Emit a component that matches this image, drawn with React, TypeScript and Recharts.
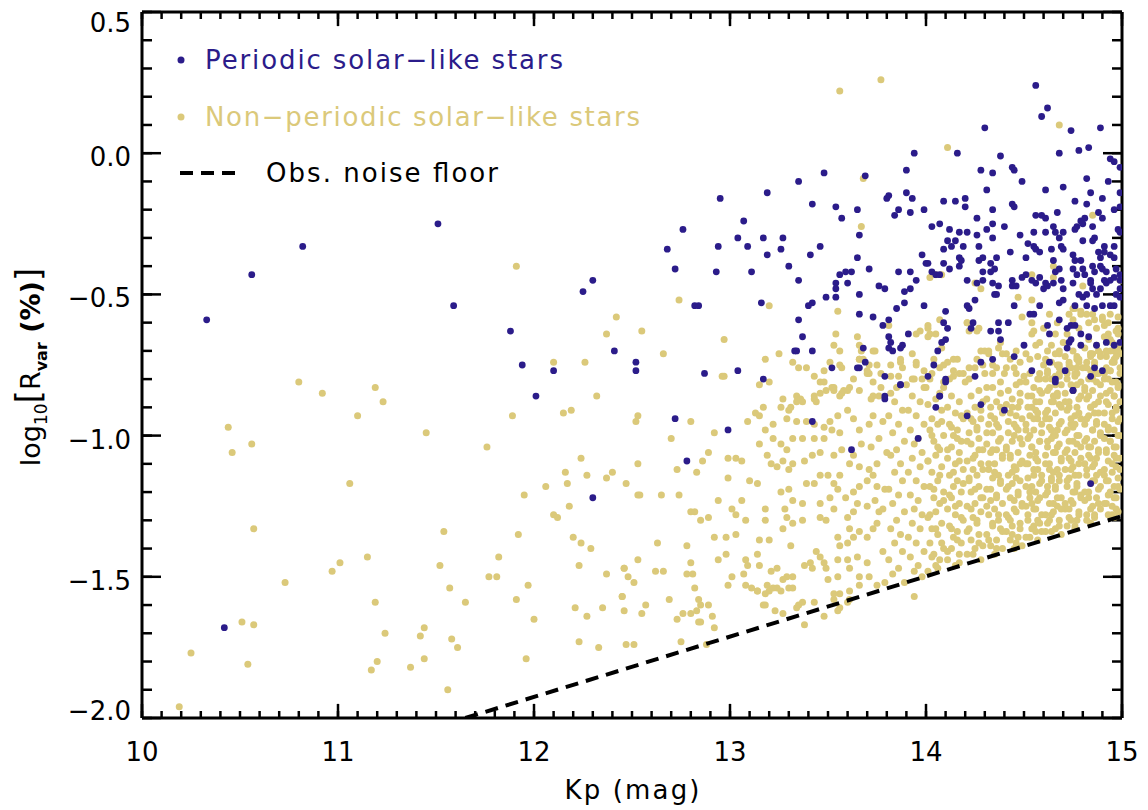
import React from "react";
import { ScatterChart, Scatter, XAxis, YAxis, ReferenceLine } from "recharts";

const BLUE = "#2b1c8a";
const TAN = "#dbc97a";
const FONT = "'DejaVu Sans', sans-serif";

// axis ticks: minor every 0.1, labelled majors
const kpTicks = [
  10, 10.1, 10.2, 10.3, 10.4, 10.5, 10.6, 10.7, 10.8, 10.9,
  11, 11.1, 11.2, 11.3, 11.4, 11.5, 11.6, 11.7, 11.8, 11.9,
  12, 12.1, 12.2, 12.3, 12.4, 12.5, 12.6, 12.7, 12.8, 12.9,
  13, 13.1, 13.2, 13.3, 13.4, 13.5, 13.6, 13.7, 13.8, 13.9,
  14, 14.1, 14.2, 14.3, 14.4, 14.5, 14.6, 14.7, 14.8, 14.9, 15,
];
const kpMajorTicks = [10, 11, 12, 13, 14, 15];
const logTicks = [
  -2.0, -1.9, -1.8, -1.7, -1.6, -1.5, -1.4, -1.3, -1.2, -1.1,
  -1.0, -0.9, -0.8, -0.7, -0.6, -0.5, -0.4, -0.3, -0.2, -0.1,
  0.0, 0.1, 0.2, 0.3, 0.4, 0.5,
];
const logMajorTicks = [-2.0, -1.5, -1.0, -0.5, 0.0, 0.5];

// observational noise floor, [Kp, log10 Rvar]
const noiseFloor = [[11.65, -2.0], [15.0, -1.285]];

// periodic solar-like stars, [Kp, log10 Rvar]
const periodic = [
  [10.33,-0.59],[10.56,-0.43],[10.82,-0.33],[11.51,-0.25],[11.59,-0.54],[10.42,-1.68],[11.88,-0.63],[11.94,-0.75],
  [12.10,-0.77],[12.01,-0.86],[12.25,-0.49],[12.30,-0.45],[12.41,-0.70],[12.52,-0.74],[12.52,-0.77],[12.30,-1.22],
  [14.56,0.24],[14.62,0.16],[14.59,0.13],[14.30,0.09],[14.74,0.08],[14.89,0.09],
  [13.94,0.00],[14.16,0.00],[14.38,-0.01],[14.68,0.00],[14.78,0.01],[14.83,0.02],[14.94,-0.02],[14.96,-0.03],[14.99,-0.05],[14.93,-0.10],
  [13.69,-0.08],[13.90,-0.06],[14.28,-0.06],[14.34,-0.07],[14.44,-0.05],[14.45,-0.06],[14.49,-0.10],[14.82,-0.09],[14.61,-0.13],[14.70,-0.12],[14.99,-0.14],[14.84,-0.14],
  [13.48,-0.07],[13.35,-0.10],[13.19,-0.14],[12.95,-0.16],[12.76,-0.27],[13.07,-0.24],[12.68,-0.34],[12.72,-0.41],[12.94,-0.33],[13.04,-0.30],[13.09,-0.33],[13.17,-0.30],[13.19,-0.36],[13.27,-0.30],[13.26,-0.34],
  [12.93,-0.42],[13.11,-0.42],[13.30,-0.40],[12.82,-0.54],[12.84,-0.54],[13.16,-0.53],[12.87,-0.78],[13.04,-0.77],[13.17,-0.80],
  [13.35,-0.45],[13.41,-0.36],[13.46,-0.33],[13.42,-0.18],[13.54,-0.19],[13.57,-0.23],[13.65,-0.20],[13.80,-0.16],[13.81,-0.15],[13.90,-0.14],[13.93,-0.16],[13.86,-0.20],[13.84,-0.22],[13.92,-0.21],[13.99,-0.20],
  [14.09,-0.17],[14.15,-0.17],[14.20,-0.16],[14.20,-0.19],[14.26,-0.23],[14.34,-0.20],[14.34,-0.25],[14.31,-0.13],[14.44,-0.18],[14.45,-0.19],[14.56,-0.22],[14.59,-0.22],[14.61,-0.23],[14.67,-0.21],
  [14.76,-0.17],[14.82,-0.18],[14.90,-0.16],[14.88,-0.21],[14.90,-0.23],[14.96,-0.20],[14.99,-0.19],[14.79,-0.24],[14.81,-0.23],[14.80,-0.25],[14.85,-0.26],[14.76,-0.27],[14.77,-0.26],
  [14.65,-0.26],[14.66,-0.28],[14.68,-0.30],[14.70,-0.28],[14.55,-0.28],[14.61,-0.28],[14.48,-0.29],[14.40,-0.26],[14.31,-0.27],[14.34,-0.30],[14.26,-0.29],[14.27,-0.33],
  [14.21,-0.28],[14.17,-0.28],[14.12,-0.27],[14.11,-0.31],[14.15,-0.31],[14.13,-0.33],[14.09,-0.34],[14.19,-0.33],[14.03,-0.26],[14.07,-0.25],
  [13.98,-0.36],[14.00,-0.39],[14.01,-0.39],[14.03,-0.42],[14.05,-0.43],[14.07,-0.43],[14.09,-0.39],[14.12,-0.41],[14.17,-0.40],[14.17,-0.37],[14.18,-0.38],
  [14.21,-0.45],[14.25,-0.52],[14.26,-0.46],[14.27,-0.38],[14.29,-0.42],[14.29,-0.45],[14.29,-0.37],[14.33,-0.39],[14.33,-0.42],[14.35,-0.41],[14.36,-0.37],
  [14.34,-0.46],[14.35,-0.50],[14.36,-0.50],[14.37,-0.47],[14.43,-0.35],[14.44,-0.45],[14.44,-0.47],[14.46,-0.47],[14.49,-0.44],[14.51,-0.43],
  [14.52,-0.32],[14.55,-0.33],[14.56,-0.34],[14.58,-0.35],[14.51,-0.37],
  [14.54,-0.45],[14.56,-0.46],[14.58,-0.44],[14.61,-0.46],[14.60,-0.48],[14.62,-0.47],[14.65,-0.46],[14.65,-0.38],[14.66,-0.42],[14.68,-0.41],[14.69,-0.45],[14.70,-0.48],
  [14.64,-0.34],[14.69,-0.33],[14.70,-0.34],
  [14.75,-0.36],[14.76,-0.38],[14.79,-0.38],[14.75,-0.41],[14.80,-0.41],[14.77,-0.43],[14.81,-0.43],[14.84,-0.45],[14.85,-0.40],[14.86,-0.42],[14.89,-0.40],[14.90,-0.41],[14.92,-0.42],[14.89,-0.37],[14.91,-0.35],[14.88,-0.35],[14.91,-0.33],[14.94,-0.36],[14.96,-0.37],
  [14.80,-0.31],[14.85,-0.31],[14.86,-0.30],
  [14.75,-0.46],[14.84,-0.46],[14.85,-0.48],[14.87,-0.50],[14.89,-0.48],[14.91,-0.45],[14.92,-0.46],[14.94,-0.45],[14.96,-0.44],[14.99,-0.45],[14.99,-0.48],[14.97,-0.50],[14.99,-0.51],
  [14.78,-0.50],[14.80,-0.51],[14.82,-0.50],[14.82,-0.54],[14.86,-0.55],[14.90,-0.54],[14.94,-0.54],[14.76,-0.54],[14.70,-0.52],[14.68,-0.53],
  [14.53,-0.57],[14.55,-0.57],[14.58,-0.54],[14.68,-0.59],[14.74,-0.61],[14.72,-0.62],[14.76,-0.61],[14.79,-0.64],
  [14.45,-0.54],[14.42,-0.60],[14.37,-0.60],[14.37,-0.63],[14.38,-0.66],[14.33,-0.63],[14.24,-0.60],[14.23,-0.62],[14.22,-0.55],[14.21,-0.54],
  [14.63,-0.64],[14.62,-0.61],
  [14.73,-0.67],[14.72,-0.69],[14.74,-0.66],[14.79,-0.68],[14.83,-0.65],[14.87,-0.68],[14.92,-0.67],[14.96,-0.68],[14.99,-0.67],
  [14.66,-0.80],[14.71,-0.77],[14.75,-0.84],[14.84,-0.79],[14.86,-0.76],[14.90,-0.77],[14.63,-0.74],
  [14.50,-0.68],[14.45,-0.72],[14.54,-0.77],[14.28,-0.74],[14.34,-0.73],[14.25,-0.79],
  [14.06,-0.70],[14.08,-0.67],[14.10,-0.66],[14.11,-0.62],[14.10,-0.56],[14.09,-0.60],[14.01,-0.79],[14.04,-0.75],[14.10,-0.80],
  [13.99,-0.54],[13.95,-0.45],[13.92,-0.48],[13.89,-0.49],[13.89,-0.53],[13.86,-0.42],[13.92,-0.42],
  [13.85,-0.55],[13.81,-0.59],[13.78,-0.61],[13.81,-0.65],[13.82,-0.67],[13.81,-0.69],[13.83,-0.70],[13.87,-0.69],[13.88,-0.68],[13.91,-0.64],[13.79,-0.79],
  [13.73,-0.58],[13.68,-0.69],[13.66,-0.76],[13.69,-0.74],[13.66,-0.57],[13.66,-0.50],[13.65,-0.37],[13.66,-0.29],[13.71,-0.41],[13.76,-0.47],[13.79,-0.48],
  [13.56,-0.43],[13.59,-0.42],[13.62,-0.42],[13.60,-0.46],[13.54,-0.46],[13.54,-0.48],[13.54,-0.51],[13.49,-0.51],
  [13.42,-0.53],[13.40,-0.54],[13.35,-0.59],[13.37,-0.65],[13.33,-0.70],[13.42,-0.70],[13.52,-0.76],[13.65,-0.76],[13.34,-0.70],
  [12.72,-0.94],[12.78,-1.09],[12.99,-0.98],[13.42,-0.95],[13.62,-1.05],[13.79,-0.87],[13.87,-0.82],[13.96,-1.01],[14.05,-0.90],[14.07,-0.86],
  [14.10,-0.81],[14.21,-0.93],[14.28,-0.89],[14.40,-0.91],[14.66,-0.81],[14.75,-0.84],[14.84,-1.17],
  [14.99,-0.28],[14.98,-0.27],[14.96,-0.33],[14.97,-0.41],[14.99,-0.43],[14.96,-0.54],[13.87,-0.82],[13.79,-0.86],[14.07,-0.86],
];

// non-periodic stars, bright end (Kp < 12.6)
const nonPeriodicBright = [
  [11.91,-0.40],[12.42,-0.58],[12.37,-0.64],[12.26,-0.74],[12.10,-0.74],[12.32,-0.86],[11.89,-0.93],[12.15,-0.92],[12.19,-0.91],[12.52,-0.95],[12.53,-0.93],
  [10.80,-0.81],[10.92,-0.85],[11.19,-0.83],[11.23,-0.88],[11.10,-0.93],[11.45,-0.99],[10.44,-0.97],[10.46,-1.06],[10.56,-1.03],[11.76,-1.04],[11.06,-1.17],[10.57,-1.33],
  [12.24,-1.08],[12.16,-1.13],[12.27,-1.14],[12.17,-1.17],[12.06,-1.18],[11.95,-1.21],[12.37,-1.15],[12.40,-1.13],[12.47,-1.17],[12.53,-1.10],[12.53,-1.21],[12.18,-1.25],[12.10,-1.28],[12.12,-1.29],
  [11.54,-1.34],[11.92,-1.35],[12.20,-1.36],[12.24,-1.38],[12.29,-1.40],[11.82,-1.43],[12.23,-1.46],[11.77,-1.50],[11.81,-1.50],[11.15,-1.43],[11.01,-1.45],[10.97,-1.48],[10.73,-1.52],
  [11.52,-1.46],[11.57,-1.54],[11.65,-1.59],[11.19,-1.59],[11.97,-1.53],[11.91,-1.58],[12.00,-1.65],
  [12.37,-1.49],[12.46,-1.47],[12.48,-1.50],[12.51,-1.52],[12.45,-1.57],[12.46,-1.62],[12.21,-1.61],[12.27,-1.64],[12.35,-1.61],[12.23,-1.73],[12.33,-1.75],[12.47,-1.74],[12.51,-1.74],[11.96,-1.79],
  [10.51,-1.66],[10.57,-1.67],[10.25,-1.77],[10.54,-1.81],[10.19,-1.96],[11.24,-1.70],[11.20,-1.80],[11.17,-1.83],[11.42,-1.71],[11.44,-1.68],[11.37,-1.82],[11.44,-1.79],[11.58,-1.72],[11.61,-1.75],[11.56,-1.90],
];

// non-periodic stars, upper edge of the cloud
const nonPeriodicUpper = [
  [13.56,0.22],[13.77,0.26],[14.68,0.10],[14.11,0.02],[13.68,-0.09],[13.67,-0.26],[12.74,-0.52],[13.20,-0.54],[12.55,-0.63],[12.66,-0.71],[12.97,-0.66],[12.97,-0.79],[12.96,-0.79],[13.15,-0.82],[13.20,-0.81],[13.55,-0.56],
  [13.54,-0.64],[13.53,-0.68],[13.56,-0.70],[13.65,-0.65],[13.66,-0.68],[13.67,-0.70],
  [13.18,-0.73],[13.25,-0.71],[13.32,-0.74],[13.35,-0.76],[13.39,-0.76],[13.43,-0.79],[13.48,-0.77],[13.51,-0.74],[13.56,-0.75],[13.66,-0.73],[13.71,-0.78],[13.75,-0.75],[13.74,-0.70],[13.87,-0.73],[13.87,-0.74],
  [13.95,-0.64],[14.01,-0.62],[14.01,-0.65],[14.05,-0.64],[14.08,-0.69],[14.02,-0.44],[14.05,-0.43],[14.08,-0.43],[14.25,-0.46],[14.28,-0.48],[14.21,-0.60],[14.26,-0.63],
  [14.47,-0.51],[14.54,-0.52],[14.54,-0.43],[14.65,-0.40],[14.65,-0.44],[14.85,-0.22],[14.80,-0.47],[14.63,-0.57],
  [14.49,-0.58],[14.54,-0.60],[14.60,-0.62],[14.67,-0.60],[14.73,-0.57],[14.75,-0.55],[14.79,-0.56],[14.82,-0.57],[14.86,-0.59],[14.90,-0.58],[14.94,-0.57],[14.98,-0.58],[14.98,-0.62],[14.99,-0.45],
  [14.54,-0.64],[14.56,-0.68],[14.51,-0.71],[14.46,-0.70],[14.41,-0.71],[14.37,-0.69],[14.28,-0.70],[14.32,-0.71],[14.26,-0.73],[14.29,-0.75],[14.34,-0.75],[14.40,-0.78],[14.45,-0.76],[14.50,-0.79],
  [14.58,-0.78],[14.62,-0.78],[14.67,-0.75],[14.62,-0.70],[14.68,-0.71],[14.77,-0.72],[14.84,-0.71],[14.89,-0.71],[14.94,-0.70],[14.98,-0.68],[14.99,-0.71],[14.96,-0.73],[14.92,-0.76],[14.80,-0.76],[14.73,-0.74],
  [14.14,-0.73],[14.14,-0.77],[14.17,-0.78],[14.20,-0.81],[14.09,-0.75],[14.04,-0.73],[13.99,-0.77],[13.95,-0.75],[13.94,-0.80],[13.99,-0.83],[14.02,-0.80],[14.07,-0.85],[14.09,-0.83],
  [13.66,-0.84],[13.73,-0.81],[13.77,-0.83],[13.82,-0.85],[13.73,-0.86],[13.63,-0.80],[13.57,-0.76],[13.70,-0.78],[13.71,-0.75],[13.66,-0.73],
  [13.34,-0.86],[13.43,-0.86],[13.49,-0.84],[13.53,-0.83],[13.58,-0.84],[13.46,-0.81],[13.27,-0.87],
  [13.81,-0.61],[13.97,-0.63],[14.01,-0.61],[14.02,-0.64],[14.07,-0.59],[14.21,-0.60],[14.22,-0.63],[14.27,-0.62],[14.30,-0.70],[14.32,-0.70],[14.38,-0.67],[14.39,-0.71],
  [14.55,-0.63],[14.58,-0.67],[14.64,-0.68],[14.68,-0.70],[14.66,-0.64],[14.75,-0.59],[14.76,-0.55],[14.79,-0.57],[14.85,-0.57],[14.90,-0.59],[14.93,-0.64],[14.96,-0.70],
  [14.84,-0.71],[14.77,-0.73],[14.68,-0.75],[14.60,-0.75],[14.53,-0.73],[14.46,-0.78],[14.41,-0.76],[14.34,-0.78],[14.22,-0.76],[14.16,-0.73],[14.11,-0.74],[14.07,-0.76],
  [13.95,-0.74],[13.88,-0.76],[13.82,-0.75],[13.77,-0.78],[13.70,-0.77],[13.68,-0.73],[13.73,-0.70],[13.93,-0.71],[13.82,-0.79],[13.85,-0.83],[13.93,-0.80],[14.00,-0.83],
  [14.09,-0.81],[14.14,-0.79],[14.22,-0.80],[14.31,-0.83],[14.38,-0.81],[14.48,-0.81],[14.58,-0.80],[14.68,-0.79],[14.77,-0.78],[14.85,-0.78],[14.94,-0.77],[14.97,-0.81],
  [14.91,-0.61],[14.87,-0.62],[14.83,-0.60],[14.78,-0.62],[14.72,-0.64],[14.70,-0.67],[14.66,-0.71],[14.61,-0.73],[14.57,-0.72],[14.48,-0.74],
  [14.43,-0.73],[14.36,-0.76],[14.30,-0.78],[14.25,-0.76],[14.19,-0.78],[14.12,-0.80],[14.03,-0.78],[13.98,-0.80],[13.90,-0.82],[13.86,-0.79],
];

// non-periodic stars, Kp 12.4 - 13.8
const nonPeriodicMid = [
  [12.70,-1.01],[12.80,-0.95],[12.54,-1.21],[12.65,-1.21],[12.74,-1.21],[12.73,-1.12],[12.83,-1.13],[12.86,-1.09],[12.89,-1.06],[12.92,-0.99],
  [12.80,-1.27],[12.82,-1.27],[12.85,-1.30],[12.89,-1.29],[12.94,-1.23],[12.63,-1.38],[12.78,-1.39],[12.53,-1.44],[12.46,-1.47],[12.62,-1.48],[12.66,-1.48],
  [12.80,-1.45],[12.78,-1.49],[12.81,-1.49],[12.94,-1.44],[12.92,-1.36],[12.82,-1.54],[12.45,-1.57],[12.69,-1.58],[12.84,-1.58],[12.85,-1.60],[12.89,-1.60],
  [12.80,-1.63],[12.76,-1.63],[12.57,-1.60],[12.55,-1.63],[12.73,-1.65],[12.85,-1.66],[12.91,-1.64],[12.92,-1.68],[12.75,-1.73],[12.88,-1.74],[12.84,-1.66],[12.83,-1.62],
  [12.99,-1.08],[13.03,-1.08],[13.06,-1.09],[12.99,-1.15],[13.10,-1.16],[13.14,-1.17],[13.01,-1.26],[13.03,-1.28],[13.06,-1.23],[13.08,-1.30],[12.98,-1.36],[13.03,-1.35],[12.98,-1.42],
  [12.99,-1.53],[13.01,-1.50],[13.07,-1.49],[13.08,-1.53],[13.11,-1.54],[13.14,-1.55],[13.08,-1.44],[13.09,-1.46],[13.14,-1.42],[13.15,-1.46],[13.19,-1.53],[13.18,-1.56],
  [13.17,-1.60],[13.23,-1.62],[13.27,-1.63],[13.34,-1.61],[13.37,-1.59],[13.38,-1.67],[13.18,-1.26],[13.18,-1.30],[13.20,-1.37],[13.15,-1.37],[13.21,-1.48],[13.24,-1.47],[13.24,-1.54],
  [13.28,-1.26],[13.29,-1.29],[13.27,-1.33],[13.31,-1.39],[13.32,-1.31],[13.26,-1.20],[13.30,-1.19],[13.32,-1.23],[13.37,-1.24],[13.37,-1.30],
  [13.29,-1.50],[13.32,-1.50],[13.32,-1.54],[13.38,-1.46],[13.41,-1.45],[13.42,-1.47],[13.44,-1.41],[13.46,-1.43],[13.48,-1.45],[13.50,-1.51],[13.49,-1.47],
  [13.39,-1.17],[13.43,-1.17],[13.46,-1.14],[13.50,-1.14],[13.53,-1.17],[13.56,-1.14],[13.55,-1.19],[13.51,-1.22],[13.46,-1.24],[13.46,-1.29],[13.49,-1.30],[13.53,-1.26],
  [13.21,-1.10],[13.24,-1.11],[13.27,-1.09],[13.30,-1.12],[13.32,-1.10],[13.38,-1.09],[13.42,-1.07],[13.46,-1.06],[13.53,-1.07],[13.57,-1.05],
  [13.55,-1.36],[13.56,-1.39],[13.60,-1.38],[13.63,-1.36],[13.61,-1.33],[13.66,-1.34],[13.70,-1.36],[13.73,-1.33],[13.75,-1.31],[13.55,-1.44],[13.60,-1.44],[13.65,-1.43],
  [13.70,-1.45],[13.55,-1.50],[13.61,-1.47],[13.66,-1.50],[13.71,-1.50],[13.75,-1.53],[13.56,-1.56],[13.61,-1.55],[13.66,-1.53],[13.53,-1.58],[13.56,-1.61],[13.61,-1.58],
  [13.59,-1.22],[13.63,-1.20],[13.66,-1.18],[13.70,-1.16],[13.73,-1.14],[13.75,-1.18],[13.65,-1.24],[13.70,-1.25],[13.74,-1.23],[13.76,-1.27],[13.63,-1.27],[13.60,-1.29],
  [13.61,-1.10],[13.66,-1.11],[13.71,-1.12],[13.75,-1.10],[13.63,-1.07],[13.67,-1.03],[13.72,-1.04],[13.76,-1.01],[13.66,-0.98],[13.71,-0.96],[13.73,-0.93],[13.63,-0.94],
  [13.60,-0.91],[13.55,-0.93],[13.51,-0.95],[13.22,-1.01],[13.26,-1.03],[13.29,-1.05],[13.32,-1.01],[13.37,-1.01],[13.43,-1.01],[13.48,-1.01],[13.52,-0.98],[13.56,-0.99],
  [13.48,-0.97],[13.43,-0.96],[13.39,-0.95],[13.34,-0.95],[13.29,-0.94],[13.22,-0.96],[13.15,-0.93],[13.18,-0.98],[13.13,-0.92],[13.09,-0.95],[13.15,-1.03],[13.19,-1.07],
  [13.17,-0.90],[13.26,-0.90],[13.30,-0.91],[13.34,-0.88],[13.36,-0.87],[13.43,-0.87],[13.46,-0.85],[13.53,-0.84],[13.57,-0.85],[13.61,-0.83],[13.72,-0.87],[13.76,-0.86],
  [13.48,-0.81],[13.52,-0.83],[13.56,-0.86],[13.60,-0.84],[13.44,-0.88],[13.37,-0.88],[13.31,-0.90],
  [13.35,-1.60],[13.43,-1.59],[13.48,-1.64],[13.55,-1.62],[13.60,-1.59],[13.53,-1.56],[13.27,-1.51],[13.30,-1.54],[13.20,-1.55],[13.26,-1.55],[13.22,-1.54],[13.18,-1.60],[13.14,-1.55],
  [13.78,-0.95],[13.79,-1.19],[13.78,-1.41],[13.79,-1.52],[13.78,-1.26],[13.80,-1.06],[13.94,-1.57],
];

// non-periodic stars, dense faint end (Kp 13.8 - 15)
const nonPeriodicDense = [
  [13.84,-0.88],[13.88,-0.91],[13.81,-0.93],[13.86,-0.96],[13.83,-0.99],[13.89,-1.02],[13.85,-1.05],[13.82,-1.07],[13.87,-1.10],
  [13.84,-1.13],[13.88,-1.16],[13.81,-1.19],[13.86,-1.21],[13.83,-1.24],[13.89,-1.27],[13.85,-1.30],[13.82,-1.33],[13.87,-1.35],
  [13.84,-1.38],[13.88,-1.41],[13.81,-1.44],[13.86,-1.47],[13.83,-1.49],[13.89,-1.52],
  [13.93,-0.86],[13.97,-0.88],[13.91,-0.91],[13.95,-0.93],[13.99,-0.96],[13.92,-0.98],[13.96,-1.01],[13.94,-1.03],[13.98,-1.06],
  [13.93,-1.08],[13.97,-1.11],[13.91,-1.13],[13.95,-1.16],[13.99,-1.18],[13.92,-1.21],[13.96,-1.23],[13.94,-1.26],[13.98,-1.28],
  [13.93,-1.31],[13.97,-1.33],[13.91,-1.36],[13.95,-1.38],[13.99,-1.41],[13.92,-1.43],[13.96,-1.46],[13.94,-1.48],[13.98,-1.50],
  [14.05,-0.87],[14.01,-0.89],[14.08,-0.91],[14.03,-0.94],[14.06,-0.96],[14.02,-0.98],[14.09,-1.00],[14.04,-1.02],[14.07,-1.05],
  [14.05,-1.07],[14.01,-1.09],[14.08,-1.11],[14.03,-1.13],[14.06,-1.16],[14.02,-1.18],[14.09,-1.20],[14.04,-1.22],[14.07,-1.24],
  [14.05,-1.27],[14.01,-1.29],[14.08,-1.31],[14.03,-1.33],[14.06,-1.35],[14.02,-1.38],[14.09,-1.40],[14.04,-1.42],[14.07,-1.44],[14.05,-1.46],[14.01,-1.48],
  [14.13,-0.86],[14.17,-0.88],[14.11,-0.90],[14.15,-0.92],[14.19,-0.94],[14.12,-0.96],[14.16,-0.98],[14.14,-1.00],[14.18,-1.02],
  [14.13,-1.04],[14.17,-1.06],[14.11,-1.08],[14.15,-1.10],[14.19,-1.12],[14.12,-1.14],[14.16,-1.16],[14.14,-1.18],[14.18,-1.20],
  [14.13,-1.22],[14.17,-1.24],[14.11,-1.26],[14.15,-1.28],[14.19,-1.30],[14.12,-1.32],[14.16,-1.34],[14.14,-1.36],[14.18,-1.38],
  [14.13,-1.40],[14.17,-1.42],[14.11,-1.44],[14.15,-1.46],
  [14.27,-0.84],[14.23,-0.86],[14.29,-0.88],[14.25,-0.90],[14.21,-0.92],[14.28,-0.94],[14.24,-0.95],[14.26,-0.97],[14.22,-0.99],
  [14.27,-1.01],[14.23,-1.03],[14.29,-1.05],[14.25,-1.07],[14.21,-1.09],[14.28,-1.10],[14.24,-1.12],[14.26,-1.14],[14.22,-1.16],
  [14.27,-1.18],[14.23,-1.20],[14.29,-1.22],[14.25,-1.24],[14.21,-1.25],[14.28,-1.27],[14.24,-1.29],[14.26,-1.31],[14.22,-1.33],
  [14.27,-1.35],[14.23,-1.37],[14.29,-1.39],[14.25,-1.40],[14.21,-1.42],[14.28,-1.44],
  [14.34,-0.83],[14.38,-0.85],[14.31,-0.87],[14.36,-0.88],[14.33,-0.90],[14.39,-0.92],[14.35,-0.94],[14.32,-0.96],[14.37,-0.97],
  [14.34,-0.99],[14.38,-1.01],[14.31,-1.03],[14.36,-1.05],[14.33,-1.06],[14.39,-1.08],[14.35,-1.10],[14.32,-1.12],[14.37,-1.14],
  [14.34,-1.15],[14.38,-1.17],[14.31,-1.19],[14.36,-1.21],[14.33,-1.23],[14.39,-1.24],[14.35,-1.26],[14.32,-1.28],[14.37,-1.30],
  [14.34,-1.32],[14.38,-1.33],[14.31,-1.35],[14.36,-1.37],[14.33,-1.39],[14.39,-1.40],[14.35,-1.42],
  [14.46,-0.82],[14.42,-0.84],[14.48,-0.85],[14.44,-0.87],[14.41,-0.89],[14.47,-0.90],[14.43,-0.92],[14.49,-0.94],[14.45,-0.96],
  [14.46,-0.97],[14.42,-0.99],[14.48,-1.01],[14.44,-1.02],[14.41,-1.04],[14.47,-1.06],[14.43,-1.07],[14.49,-1.09],[14.45,-1.11],
  [14.46,-1.12],[14.42,-1.14],[14.48,-1.16],[14.44,-1.17],[14.41,-1.19],[14.47,-1.21],[14.43,-1.22],[14.49,-1.24],[14.45,-1.26],
  [14.46,-1.27],[14.42,-1.29],[14.48,-1.31],[14.44,-1.32],[14.41,-1.34],[14.47,-1.36],[14.43,-1.37],[14.49,-1.39],[14.45,-1.40],
  [14.53,-0.78],[14.57,-0.80],[14.51,-0.81],[14.55,-0.83],[14.59,-0.85],[14.52,-0.86],[14.58,-0.88],[14.54,-0.90],[14.56,-0.91],
  [14.53,-0.93],[14.57,-0.94],[14.51,-0.96],[14.55,-0.98],[14.59,-0.99],[14.52,-1.01],[14.58,-1.02],[14.54,-1.04],[14.56,-1.06],
  [14.53,-1.07],[14.57,-1.09],[14.51,-1.10],[14.55,-1.12],[14.59,-1.14],[14.52,-1.15],[14.58,-1.17],[14.54,-1.18],[14.56,-1.20],
  [14.53,-1.22],[14.57,-1.23],[14.51,-1.25],[14.55,-1.26],[14.59,-1.28],[14.52,-1.30],[14.58,-1.31],[14.54,-1.33],[14.56,-1.34],[14.53,-1.36],[14.57,-1.37],
  [14.64,-0.74],[14.68,-0.76],[14.62,-0.77],[14.66,-0.79],[14.61,-0.80],[14.69,-0.82],[14.63,-0.83],[14.67,-0.85],[14.65,-0.86],
  [14.64,-0.88],[14.68,-0.89],[14.62,-0.91],[14.66,-0.92],[14.61,-0.94],[14.69,-0.95],[14.63,-0.97],[14.67,-0.98],[14.65,-1.00],
  [14.64,-1.01],[14.68,-1.03],[14.62,-1.04],[14.66,-1.06],[14.61,-1.07],[14.69,-1.09],[14.63,-1.10],[14.67,-1.12],[14.65,-1.13],
  [14.64,-1.15],[14.68,-1.16],[14.62,-1.18],[14.66,-1.19],[14.61,-1.21],[14.69,-1.22],[14.63,-1.24],[14.67,-1.25],[14.65,-1.27],
  [14.64,-1.28],[14.68,-1.30],[14.62,-1.31],[14.66,-1.33],[14.61,-1.34],[14.69,-1.35],
  [14.75,-0.70],[14.71,-0.72],[14.78,-0.73],[14.73,-0.75],[14.77,-0.76],[14.72,-0.78],[14.76,-0.79],[14.79,-0.81],[14.74,-0.82],
  [14.75,-0.84],[14.71,-0.85],[14.78,-0.87],[14.73,-0.88],[14.77,-0.90],[14.72,-0.91],[14.76,-0.93],[14.79,-0.94],[14.74,-0.96],
  [14.75,-0.97],[14.71,-0.99],[14.78,-1.00],[14.73,-1.02],[14.77,-1.03],[14.72,-1.05],[14.76,-1.06],[14.79,-1.08],[14.74,-1.09],
  [14.75,-1.11],[14.71,-1.12],[14.78,-1.14],[14.73,-1.15],[14.77,-1.17],[14.72,-1.18],[14.76,-1.20],[14.79,-1.21],[14.74,-1.23],
  [14.75,-1.24],[14.71,-1.26],[14.78,-1.27],[14.73,-1.29],[14.77,-1.30],[14.72,-1.32],[14.76,-1.33],
  [14.83,-0.66],[14.87,-0.68],[14.81,-0.69],[14.85,-0.71],[14.89,-0.72],[14.82,-0.74],[14.86,-0.75],[14.84,-0.77],[14.88,-0.78],
  [14.83,-0.80],[14.87,-0.81],[14.81,-0.83],[14.85,-0.84],[14.89,-0.86],[14.82,-0.87],[14.86,-0.89],[14.84,-0.90],[14.88,-0.92],
  [14.83,-0.93],[14.87,-0.95],[14.81,-0.96],[14.85,-0.98],[14.89,-0.99],[14.82,-1.01],[14.86,-1.02],[14.84,-1.04],[14.88,-1.05],
  [14.83,-1.07],[14.87,-1.08],[14.81,-1.10],[14.85,-1.11],[14.89,-1.13],[14.82,-1.14],[14.86,-1.16],[14.84,-1.17],[14.88,-1.19],
  [14.83,-1.20],[14.87,-1.22],[14.81,-1.23],[14.85,-1.25],[14.89,-1.26],[14.82,-1.28],[14.86,-1.29],[14.84,-1.31],
  [14.93,-0.60],[14.97,-0.63],[14.91,-0.65],[14.95,-0.67],[14.98,-0.70],[14.92,-0.72],[14.96,-0.74],[14.94,-0.77],[14.99,-0.78],
  [14.91,-0.80],[14.95,-0.81],[14.98,-0.83],[14.92,-0.85],[14.96,-0.86],[14.99,-0.88],[14.93,-0.89],[14.97,-0.91],[14.91,-0.92],
  [14.95,-0.94],[14.98,-0.95],[14.93,-0.97],[14.96,-0.98],[14.99,-1.00],[14.91,-1.01],[14.94,-1.02],[14.97,-1.04],[14.92,-1.05],
  [14.96,-1.07],[14.99,-1.08],[14.93,-1.09],[14.97,-1.11],[14.91,-1.12],[14.95,-1.13],[14.98,-1.15],[14.92,-1.16],[14.96,-1.18],
  [14.99,-1.19],[14.93,-1.21],[14.97,-1.22],[14.91,-1.24],[14.95,-1.25],[14.98,-1.27],[14.93,-1.28],[14.96,-1.29],
];

// second pass over the densest part of the cloud
const nonPeriodicCore = [
  [14.98,-0.64],[14.94,-0.66],[14.96,-0.68],[14.92,-0.70],[14.97,-0.72],[14.95,-0.74],[14.99,-0.76],[14.91,-0.78],[14.93,-0.80],
  [14.98,-0.82],[14.94,-0.84],[14.96,-0.86],[14.92,-0.88],[14.97,-0.90],[14.95,-0.92],[14.99,-0.94],[14.91,-0.96],[14.93,-0.98],
  [14.98,-1.00],[14.94,-1.02],[14.96,-1.04],[14.92,-1.06],[14.97,-1.08],[14.95,-1.10],[14.99,-1.12],[14.91,-1.14],[14.93,-1.16],
  [14.98,-1.18],[14.94,-1.20],[14.96,-1.22],[14.92,-1.24],[14.97,-1.26],[14.95,-1.28],
  [14.88,-0.70],[14.84,-0.72],[14.86,-0.74],[14.82,-0.76],[14.87,-0.78],[14.85,-0.80],[14.89,-0.82],[14.81,-0.84],[14.83,-0.86],
  [14.88,-0.88],[14.84,-0.90],[14.86,-0.92],[14.82,-0.94],[14.87,-0.96],[14.85,-0.98],[14.89,-1.00],[14.81,-1.02],[14.83,-1.04],
  [14.88,-1.06],[14.84,-1.08],[14.86,-1.10],[14.82,-1.12],[14.87,-1.14],[14.85,-1.16],[14.89,-1.18],[14.81,-1.20],[14.83,-1.22],
  [14.88,-1.24],[14.84,-1.26],[14.86,-1.28],[14.82,-1.30],
  [14.78,-0.74],[14.74,-0.76],[14.76,-0.78],[14.72,-0.80],[14.77,-0.82],[14.75,-0.84],[14.79,-0.86],[14.71,-0.88],[14.73,-0.90],
  [14.78,-0.92],[14.74,-0.94],[14.76,-0.96],[14.72,-0.98],[14.77,-1.00],[14.75,-1.02],[14.79,-1.04],[14.71,-1.06],[14.73,-1.08],
  [14.78,-1.10],[14.74,-1.12],[14.76,-1.14],[14.72,-1.16],[14.77,-1.18],[14.75,-1.20],[14.79,-1.22],[14.71,-1.24],[14.73,-1.26],
  [14.78,-1.28],[14.74,-1.30],[14.76,-1.32],
  [14.68,-0.78],[14.64,-0.80],[14.66,-0.82],[14.62,-0.84],[14.67,-0.86],[14.65,-0.88],[14.69,-0.90],[14.61,-0.92],[14.63,-0.94],
  [14.68,-0.96],[14.64,-0.98],[14.66,-1.00],[14.62,-1.02],[14.67,-1.04],[14.65,-1.06],[14.69,-1.08],[14.61,-1.10],[14.63,-1.12],
  [14.68,-1.14],[14.64,-1.16],[14.66,-1.18],[14.62,-1.20],[14.67,-1.22],[14.65,-1.24],[14.69,-1.26],[14.61,-1.28],[14.63,-1.30],
  [14.68,-1.32],[14.64,-1.34],
  [14.58,-0.84],[14.54,-0.86],[14.56,-0.88],[14.52,-0.90],[14.57,-0.92],[14.55,-0.94],[14.59,-0.96],[14.51,-0.98],[14.53,-1.00],
  [14.58,-1.02],[14.54,-1.04],[14.56,-1.08],[14.52,-1.10],[14.57,-1.12],[14.55,-1.14],[14.59,-1.16],[14.51,-1.18],[14.53,-1.20],
  [14.58,-1.22],[14.54,-1.24],[14.56,-1.26],[14.52,-1.28],[14.57,-1.30],[14.55,-1.32],[14.59,-1.34],[14.51,-1.36],
  [14.48,-0.88],[14.44,-0.90],[14.46,-0.93],[14.42,-0.95],[14.47,-0.98],[14.45,-1.00],[14.49,-1.03],[14.41,-1.05],[14.43,-1.08],
  [14.48,-1.10],[14.44,-1.13],[14.46,-1.15],[14.42,-1.18],[14.47,-1.20],[14.45,-1.23],[14.49,-1.25],[14.41,-1.28],[14.43,-1.30],
  [14.48,-1.33],[14.44,-1.35],[14.46,-1.38],
  [14.38,-0.90],[14.33,-0.93],[14.36,-0.96],[14.31,-0.99],[14.37,-1.02],[14.34,-1.05],[14.39,-1.07],[14.32,-1.10],[14.35,-1.13],
  [14.38,-1.16],[14.33,-1.19],[14.36,-1.22],[14.31,-1.25],[14.37,-1.28],[14.34,-1.31],[14.39,-1.34],[14.32,-1.37],[14.36,-1.40],
  [14.28,-0.91],[14.23,-0.94],[14.26,-0.98],[14.21,-1.02],[14.27,-1.05],[14.24,-1.08],[14.29,-1.12],[14.22,-1.15],[14.25,-1.19],
  [14.28,-1.22],[14.23,-1.26],[14.26,-1.30],[14.21,-1.34],[14.27,-1.38],[14.24,-1.42],
  [14.18,-0.93],[14.13,-0.97],[14.16,-1.01],[14.11,-1.05],[14.17,-1.09],[14.14,-1.13],[14.19,-1.17],[14.12,-1.21],[14.15,-1.25],
  [14.18,-1.29],[14.13,-1.33],[14.16,-1.37],[14.11,-1.41],[14.17,-1.45],
  [14.08,-0.95],[14.03,-1.00],[14.06,-1.04],[14.01,-1.09],[14.07,-1.14],[14.04,-1.19],[14.09,-1.23],[14.02,-1.28],[14.05,-1.33],
  [14.08,-1.38],[14.03,-1.43],[14.06,-1.47],
];

const asPoints = (rows: number[][]) => rows.map(([kp, log]) => ({ kp, log }));

const nonPeriodicData = asPoints([
  ...nonPeriodicBright,
  ...nonPeriodicUpper,
  ...nonPeriodicMid,
  ...nonPeriodicDense,
  ...nonPeriodicCore,
]);
const periodicData = asPoints(periodic);
const noiseFloorData = asPoints(noiseFloor);

const isMajorKp = (v: number) => Math.abs(v - Math.round(v)) < 1e-6;
const isMajorLog = (v: number) => Math.abs(v * 2 - Math.round(v * 2)) < 1e-6;
const fmtLog = (v: number) =>
  Math.abs(v) < 1e-9 ? "0.0" : v.toFixed(1).replace("-", "\u2212");

const tickLineStyle = { stroke: "#000", strokeWidth: 2.5 };
const axisLine = { stroke: "#000", strokeWidth: 3 };
const majorTick = { stroke: "#000", strokeWidth: 2.5 };
// length of the long (major) inward ticks, in data units
const MAJOR_TICK_LOG = 0.05; // vertical marks on top/bottom axes (~14px)
const MAJOR_TICK_KP = 0.097; // horizontal marks on left/right axes (~19px)

// axis tick labels (tick marks are the axis' own inward tick lines)
const BottomTick = ({ x, payload }: any) =>
  isMajorKp(payload.value) ? (
    <text x={x} y={761} textAnchor="middle" fontFamily={FONT} fontSize={26} fill="#000">
      {String(payload.value)}
    </text>
  ) : (
    <g />
  );

const LeftTick = ({ y, payload }: any) =>
  isMajorLog(payload.value) ? (
    <text x={131} y={Math.min(Math.max(y + 13, 32), 720)} textAnchor="end" fontFamily={FONT} fontSize={26} fill="#000">
      {fmtLog(payload.value)}
    </text>
  ) : (
    <g />
  );

const NoLabel = () => <g />;

const XTitle = () => (
  <text x={632} y={799} textAnchor="middle" fontFamily={FONT} fontSize={26} fill="#000"
    textLength={135} lengthAdjust="spacing">
    Kp (mag)
  </text>
);

const YTitle = () => (
  <text x={40} y={367} transform="rotate(-90, 40, 367)" textAnchor="middle" fontFamily={FONT} fontSize={27} fill="#000">
    <tspan>log</tspan>
    <tspan fontSize={17} dy={7}>10</tspan>
    <tspan fontSize={34} dy={-7}>[</tspan>
    <tspan>R</tspan>
    <tspan fontSize={16} fontWeight="bold" dy={7}>var</tspan>
    <tspan fontWeight="bold" dy={-7}> (%)</tspan>
    <tspan fontSize={34}>]</tspan>
  </text>
);

const tanDot = (p: any) => <circle cx={p.cx} cy={p.cy} r={3.5} fill={TAN} />;
const blueDot = (p: any) => <circle cx={p.cx} cy={p.cy} r={3.4} fill={BLUE} />;
const noDot = () => <g />;

const Legend = () => (
  <svg width={1148} height={810} style={{ position: "absolute", left: 0, top: 0, pointerEvents: "none" }}>
    <circle cx={181} cy={60} r={3.5} fill={BLUE} />
    <text x={205} y={69} fontFamily={FONT} fontSize={26} fill={BLUE} textLength={358} lengthAdjust="spacing">
      Periodic solar{"\u2212"}like stars
    </text>
    <circle cx={181} cy={117} r={3.5} fill={TAN} />
    <text x={205} y={126} fontFamily={FONT} fontSize={26} fill={TAN} textLength={435} lengthAdjust="spacing">
      Non{"\u2212"}periodic solar{"\u2212"}like stars
    </text>
    <line x1={180} x2={236} y1={173} y2={173} stroke="#000" strokeWidth={4} strokeDasharray="13 8" />
    <text x={266} y={182} fontFamily={FONT} fontSize={26} fill="#000" textLength={232} lengthAdjust="spacing">
      Obs. noise floor
    </text>
  </svg>
);

export default function App() {
  return (
    <div style={{ position: "relative", width: 1148, height: 810, background: "#fff" }}>
      <style>{"body{margin:0;}"}</style>
      <ScatterChart width={1148} height={810} margin={{ top: 11, right: 25, bottom: 91, left: 141 }}>
        <XAxis xAxisId="bottom" type="number" dataKey="kp" domain={[10, 15]} allowDataOverflow
          ticks={kpTicks} interval={0} tick={BottomTick} tickLine={tickLineStyle} tickSize={-7} tickMargin={0}
          height={1} axisLine={axisLine} label={XTitle} />
        <XAxis xAxisId="top" orientation="top" type="number" dataKey="kp" domain={[10, 15]} allowDataOverflow
          ticks={kpTicks} interval={0} tick={NoLabel} tickLine={tickLineStyle} tickSize={-7} tickMargin={0}
          height={1} axisLine={axisLine} />
        <YAxis yAxisId="left" type="number" dataKey="log" domain={[-2, 0.5]} allowDataOverflow
          ticks={logTicks} interval={0} tick={LeftTick} tickLine={tickLineStyle} tickSize={-10} tickMargin={0}
          width={1} axisLine={axisLine} label={YTitle} />
        <YAxis yAxisId="right" orientation="right" type="number" dataKey="log" domain={[-2, 0.5]} allowDataOverflow
          ticks={logTicks} interval={0} tick={NoLabel} tickLine={tickLineStyle} tickSize={-10} tickMargin={0}
          width={1} axisLine={axisLine} />

        {/* long major ticks on all four sides */}
        {kpMajorTicks.map((v) => (
          <ReferenceLine key={`b${v}`} xAxisId="bottom" yAxisId="left" ifOverflow="visible" {...majorTick}
            segment={[{ x: v, y: -2 }, { x: v, y: -2 + MAJOR_TICK_LOG }]} />
        ))}
        {kpMajorTicks.map((v) => (
          <ReferenceLine key={`t${v}`} xAxisId="bottom" yAxisId="left" ifOverflow="visible" {...majorTick}
            segment={[{ x: v, y: 0.5 }, { x: v, y: 0.5 - MAJOR_TICK_LOG }]} />
        ))}
        {logMajorTicks.map((v) => (
          <ReferenceLine key={`l${v}`} xAxisId="bottom" yAxisId="left" ifOverflow="visible" {...majorTick}
            segment={[{ x: 10, y: v }, { x: 10 + MAJOR_TICK_KP, y: v }]} />
        ))}
        {logMajorTicks.map((v) => (
          <ReferenceLine key={`r${v}`} xAxisId="bottom" yAxisId="left" ifOverflow="visible" {...majorTick}
            segment={[{ x: 15, y: v }, { x: 15 - MAJOR_TICK_KP, y: v }]} />
        ))}

        <Scatter xAxisId="bottom" yAxisId="left" data={nonPeriodicData} shape={tanDot} isAnimationActive={false} />
        <Scatter xAxisId="bottom" yAxisId="left" data={periodicData} shape={blueDot} isAnimationActive={false} />
        <Scatter xAxisId="top" yAxisId="right" data={noiseFloorData} shape={noDot}
          line={{ stroke: "#000", strokeWidth: 4, strokeDasharray: "13 8" }} isAnimationActive={false} />
      </ScatterChart>
      <Legend />
    </div>
  );
}
